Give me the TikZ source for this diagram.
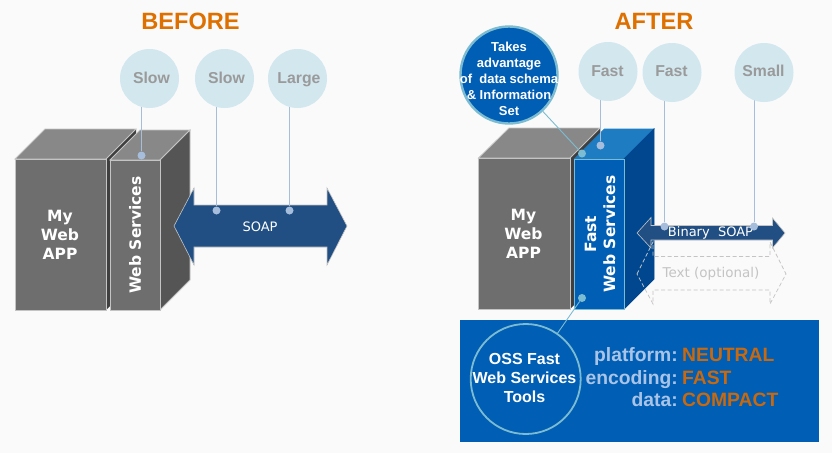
\documentclass[tikz,border=0pt]{standalone}
\usepackage{fontspec}
\setmainfont{Liberation Sans}
\newfontfamily\vfont{DejaVu Sans}
\usetikzlibrary{calc}
\definecolor{bgc}{HTML}{FAFAFA}
\definecolor{gfront}{HTML}{6E6E6E}
\definecolor{gtop}{HTML}{888888}
\definecolor{gside}{HTML}{555555}
\definecolor{gdark}{HTML}{3F3F3F}
\definecolor{edgec}{HTML}{C4C4C4}
\definecolor{bfront}{HTML}{005EB4}
\definecolor{btop}{HTML}{1E7CC2}
\definecolor{bside}{HTML}{00478F}
\definecolor{arrowc}{HTML}{214F83}
\definecolor{bubble}{HTML}{D3E7EF}
\definecolor{bubtxt}{HTML}{9A9A9A}
\definecolor{orangec}{HTML}{DE7000}
\definecolor{orange2}{HTML}{C8690F}
\definecolor{dotc}{HTML}{A6BEDC}
\definecolor{tealc}{HTML}{7CBCD2}
\definecolor{labelc}{HTML}{A9C4E6}
\tikzset{
  x=1pt,y=-1pt,
  title/.style={font=\fontsize{23.6}{24}\selectfont\bfseries,text=orangec},
  bub/.style={circle,fill=bubble,minimum size=59pt,inner sep=0pt},
  bubt/.style={anchor=base,inner sep=0pt,font=\fontsize{15.8}{18}\selectfont\bfseries,text=bubtxt},
  dotn/.style={circle,fill=dotc,minimum size=8pt,inner sep=0pt},
  tdot/.style={circle,fill=tealc,minimum size=8pt,inner sep=0pt},
  lead/.style={draw=dotc,line width=0.9pt},
  tlead/.style={draw=tealc,line width=0.9pt},
  edgeln/.style={draw=edgec,line width=0.8pt},
  boxtext/.style={font=\vfont\fontsize{15.5}{19}\selectfont\bfseries,text=white,align=center},
  dbl/.style={draw=edgec,line width=0.6pt,fill=arrowc},
  keyt/.style={anchor=base east,inner sep=0pt,font=\fontsize{19.3}{20}\selectfont\bfseries,text=labelc},
  valt/.style={anchor=base west,inner sep=0pt,font=\fontsize{19.3}{20}\selectfont\bfseries,text=orange2},
}
\begin{document}
\begin{tikzpicture}
\useasboundingbox (0,0) rectangle (832,453);
\fill[bgc] (0,0) rectangle (832,453);
\node[title] (tb) at (190.5,21) {BEFORE};
\node[title] (ta) at (654,21.5) {AFTER};

% BEFORE boxes
\fill[gdark] (106,159) -- (136,129) -- (136,280) -- (106,310) -- cycle;
\filldraw[fill=gtop,edgeln] (15,159) -- (45,129) -- (136,129) -- (106,159) -- cycle;
\filldraw[fill=gfront,edgeln] (15,159) rectangle (106,310);
\filldraw[fill=gtop,edgeln] (110,160) -- (140,130) -- (190,130) -- (160,160) -- cycle;
\filldraw[fill=gside,edgeln] (160,160) -- (190,130) -- (190,280) -- (160,310) -- cycle;
\filldraw[fill=gfront,edgeln] (110,160) rectangle (160,310);
\node[boxtext] (app1) at (60,235) {My\\Web\\APP};
\node[boxtext,rotate=90] (ws1) at (135,235) {Web Services};

% SOAP arrow
\filldraw[dbl] (174,226) -- (194,188) -- (194,205) -- (327,205) -- (327,188) -- (347,226) -- (327,265) -- (327,247) -- (194,247) -- (194,265) -- cycle;
\node[font=\vfont\fontsize{13}{14}\selectfont,text=white] (soap) at (260,226.5) {SOAP};

% BEFORE bubbles
\node[dotn] (d1) at (141.5,155.5) {};
\node[dotn] (d2) at (216.5,210.5) {};
\node[dotn] (d3) at (289.5,210.5) {};
\coordinate (c1) at (141.5,100);
\coordinate (c2) at (216.5,100);
\coordinate (c3) at (289.5,100);
\draw[lead] (d1) -- (c1);
\draw[lead] (d2) -- (c2);
\draw[lead] (d3) -- (c3);
\node[bub] (b1) at (149.5,78.5) {};
\node[bub] (b2) at (224.5,78.5) {};
\node[bub] (b3) at (297.5,78.5) {};
\node[bubt] at (151.5,83) {Slow};
\node[bubt] at (226.5,83) {Slow};
\node[bubt] at (299,83) {Large};

% AFTER boxes
\fill[gdark] (570,158) -- (600,128) -- (600,279) -- (570,309) -- cycle;
\filldraw[fill=gtop,edgeln] (478.5,158) -- (509,128) -- (600,128) -- (570,158) -- cycle;
\filldraw[fill=gfront,edgeln] (478.5,158) rectangle (570,309);
\filldraw[fill=btop,draw=btop,line width=0.8pt] (574.5,159) -- (604.5,129) -- (654,129) -- (624,159) -- cycle;
\filldraw[fill=bside,draw=bside,line width=0.8pt] (624,159) -- (654,129) -- (654,279) -- (624,309) -- cycle;
\filldraw[fill=bfront,draw=tealc,line width=0.8pt] (574.5,159) rectangle (624,309);
\node[boxtext] (app2) at (523.5,234) {My\\Web\\APP};
\node[boxtext,rotate=90] (ws2) at (600,234) {Fast\\Web Services};

% optional dashed arrow
\draw[draw=edgec,line width=0.7pt,dash pattern=on 4pt off 2.5pt] (637,274) -- (653,242) -- (653,256.5) -- (770,256.5) -- (770,242) -- (786,274) -- (770,304) -- (770,290) -- (653,290) -- (653,304) -- cycle;
\node[font=\vfont\fontsize{13.5}{14}\selectfont,text=edgec] (opt) at (711,273.5) {Text (optional)};

% Binary SOAP arrow
\filldraw[dbl] (637,233) -- (651,217.5) -- (651,225.5) -- (772.5,225.5) -- (772.5,218) -- (785,233) -- (772.5,248) -- (772.5,240) -- (651,240) -- (651,248) -- cycle;
\node[font=\vfont\fontsize{13}{14}\selectfont,text=white] (bin) at (710.5,232.5) {Binary\ \ SOAP};

% AFTER bubbles
\node[dotn] (d4) at (600.5,145.5) {};
\node[dotn] (d5) at (664.5,226.5) {};
\node[dotn] (d6) at (754,226.5) {};
\coordinate (c4) at (600.5,95);
\coordinate (c5) at (664.5,95);
\coordinate (c6) at (754,95);
\draw[lead] (d4) -- (c4);
\draw[lead] (d5) -- (c5);
\draw[lead] (d6) -- (c6);
\node[bub] (b4) at (608,71.5) {};
\node[bub] (b5) at (672,72.5) {};
\node[bub] (b6) at (764,72.5) {};
\node[bubt] at (607.5,76) {Fast};
\node[bubt] at (671.5,76) {Fast};
\node[bubt] at (763.5,76) {Small};

% callout
\node[tdot] (d7) at (582,153.5) {};
\node[circle,draw=tealc,line width=2.4pt,fill=bfront,minimum size=97pt,inner sep=0pt] (call) at (509,75) {};
\draw[tlead] (d7) -- (call);
\node[font=\fontsize{13}{16}\selectfont\bfseries,text=white,align=center] (calltxt) at (509,78.5) {Takes\\advantage\\of\ \ data schema\\\&\ Information\\Set};

% Bottom panel
\fill[bfront] (460,320) rectangle (819,442);
\node[tdot] (d8) at (582,298) {};
\node[circle,draw=tealc,line width=1.8pt,minimum size=110pt,inner sep=0pt] (oss) at (525.7,379) {};
\draw[tlead] (d8) -- (oss);
\node[font=\fontsize{16}{19.3}\selectfont\bfseries,text=white,align=center] (osst) at (524.5,378) {OSS Fast\\Web Services\\Tools};
\node[keyt] (k1) at (678,361) {platform:};
\node[keyt] (k2) at (678,384) {encoding:};
\node[keyt] (k3) at (678,406) {data:};
\node[valt] (v1) at (682,361) {NEUTRAL};
\node[valt] (v2) at (682,384) {FAST};
\node[valt] (v3) at (682,406) {COMPACT};
\end{tikzpicture}
\end{document}
